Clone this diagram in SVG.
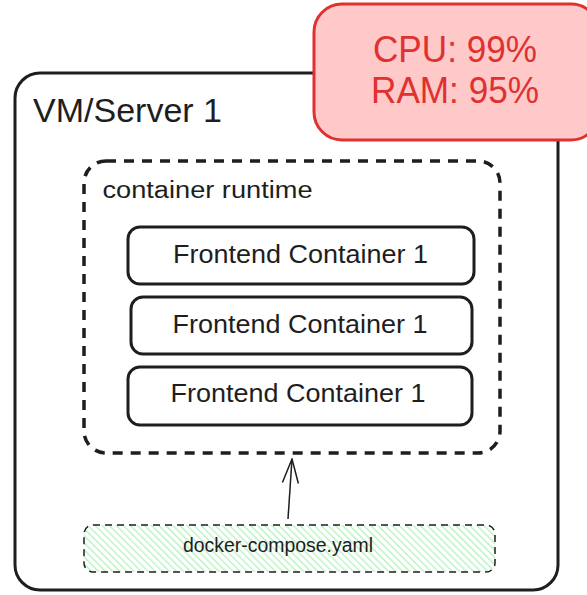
<svg xmlns="http://www.w3.org/2000/svg" width="587" height="595" viewBox="0 0 587 595">
<style>
text{font-family:"Liberation Sans",Arial,sans-serif;fill:#1e1e1e}
.box{fill:#fff;stroke:#1e1e1e;stroke-width:3}
.fe{font-size:25px;text-anchor:middle}
.alert{font-size:36px;text-anchor:middle;fill:#e03131}
</style>
<defs>
<pattern id="hatch" width="5" height="5" patternUnits="userSpaceOnUse" patternTransform="rotate(-45)">
<rect width="5" height="5" fill="#fff"/>
<line x1="0" y1="0" x2="0" y2="5" stroke="#b2f2bb" stroke-width="2.5"/>
</pattern>
<marker id="arr" viewBox="0 0 26 20" refX="25" refY="10" markerWidth="26" markerHeight="20" markerUnits="userSpaceOnUse" orient="auto">
<path d="M1,2 L25,10 L1,18" fill="none" stroke="#1e1e1e" stroke-width="1.5"/>
</marker>
</defs>
<rect width="587" height="595" fill="#fff"/>
<g id="vm">
<rect class="box" x="15" y="73" width="543" height="517" rx="25"/>
<text x="33" y="122" font-size="33" textLength="189" lengthAdjust="spacingAndGlyphs">VM/Server 1</text>
</g>
<g id="runtime">
<rect x="84" y="161" width="416" height="292" rx="22" fill="none" stroke="#1e1e1e" stroke-width="3.5" stroke-dasharray="10 8"/>
<text x="102.5" y="198" font-size="23" textLength="210" lengthAdjust="spacingAndGlyphs">container runtime</text>
</g>
<g id="fe1">
<rect class="box" x="128" y="227" width="346" height="57" rx="12"/>
<text class="fe" x="300.5" y="263" textLength="255" lengthAdjust="spacingAndGlyphs">Frontend Container 1</text>
</g>
<g id="fe2">
<rect class="box" x="131" y="297" width="341" height="57" rx="12"/>
<text class="fe" x="300" y="333" textLength="255" lengthAdjust="spacingAndGlyphs">Frontend Container 1</text>
</g>
<g id="fe3">
<rect class="box" x="128" y="367" width="344" height="58" rx="12"/>
<text class="fe" x="298" y="402" textLength="255" lengthAdjust="spacingAndGlyphs">Frontend Container 1</text>
</g>
<g id="compose">
<rect x="84" y="525" width="411" height="47" rx="9" fill="url(#hatch)" stroke="#1e1e1e" stroke-width="1.5" stroke-dasharray="7 5"/>
<text x="278" y="552" font-size="20" text-anchor="middle" textLength="190" lengthAdjust="spacingAndGlyphs">docker-compose.yaml</text>
</g>
<g id="connectors">
<line x1="288" y1="519" x2="292" y2="459" stroke="#1e1e1e" stroke-width="1.5" marker-end="url(#arr)"/>
</g>
<g id="alert">
<rect x="314" y="4" width="285" height="136" rx="28" fill="#ffc9c9" stroke="#e03131" stroke-width="3"/>
<text class="alert" x="455" y="62" textLength="164" lengthAdjust="spacingAndGlyphs">CPU: 99%</text>
<text class="alert" x="455" y="103" textLength="168" lengthAdjust="spacingAndGlyphs">RAM: 95%</text>
</g>
</svg>
